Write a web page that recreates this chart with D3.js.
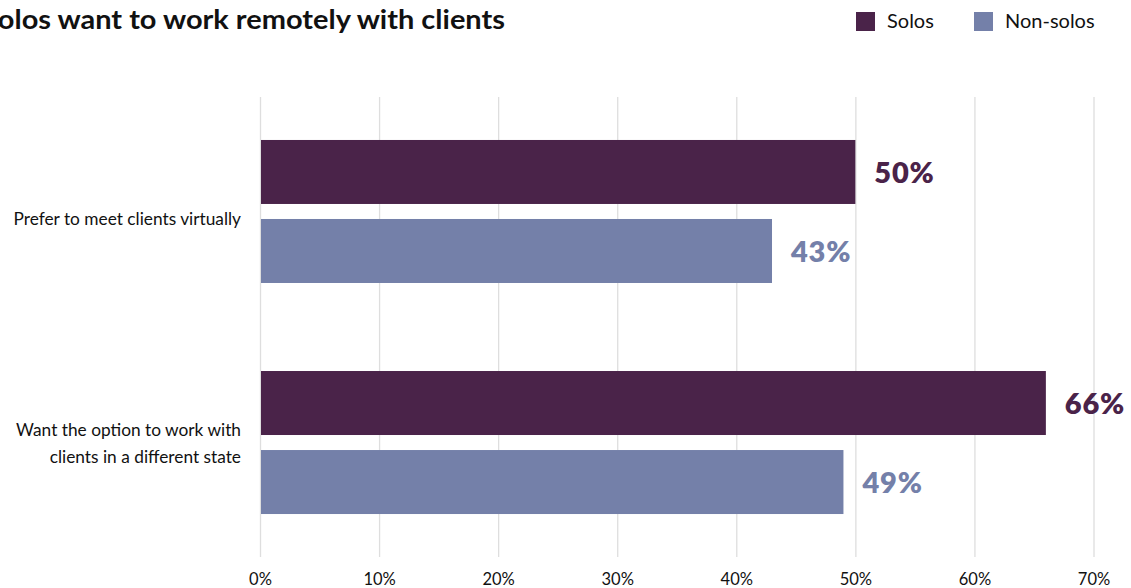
<!DOCTYPE html>
<html>
<head>
<meta charset="utf-8">
<script src="https://cdn.jsdelivr.net/npm/d3@7"></script>
<style>
  html, body { margin: 0; padding: 0; background: #fff; }
  svg { display: block; font-family: Lato, "Open Sans", sans-serif; }
</style>
</head>
<body>
<svg id="chart" width="1131" height="588"></svg>
<script>
// Survey answers, share of respondents (%)
const categories = [
  ["Prefer to meet clients virtually"],
  ["Want the option to work with", "clients in a different state"]
];
const seriesNames = ["Solos", "Non-solos"];
const solosValues = [50, 66];
const nonSolosValues = [43, 49];
const xTicks = [0, 10, 20, 30, 40, 50, 60, 70];
const titleText = "Solos want to work remotely with clients";

const colors = { "Solos": "#4a2349", "Non-solos": "#7480a9" };

const svg = d3.select("#chart");

const rows = categories.map((lines, i) => ({
  key: lines.join(" "),
  lines,
  values: [
    { series: "Solos", value: solosValues[i] },
    { series: "Non-solos", value: nonSolosValues[i] }
  ]
}));

const x = d3.scaleLinear().domain([0, 70]).range([260, 1093.5]);
const yTop = 97, yBottom = 557;
const y = d3.scaleBand()
  .domain(rows.map(d => d.key))
  .range([yTop, yBottom])
  .paddingInner(0.381)
  .paddingOuter(0.186);
const ySeries = d3.scaleBand()
  .domain(seriesNames)
  .range([0, y.bandwidth()])
  .paddingInner(0.19);

// Vertical gridlines + percentage tick labels
const axis = svg.append("g")
  .attr("transform", `translate(0,${yBottom})`)
  .call(d3.axisBottom(x)
    .tickValues(xTicks)
    .tickSize(-(yBottom - yTop))
    .tickFormat(d => d + "%"));
axis.select(".domain").remove();
axis.selectAll(".tick line")
  .attr("stroke", "#dedede")
  .attr("stroke-width", 1.3);
axis.selectAll(".tick text")
  .attr("y", 28)
  .attr("dy", 0)
  .attr("fill", "#111")
  .style("font-size", "16.5px")
  .style("font-family", "Lato, sans-serif");

// Bars
const groups = svg.append("g").selectAll("g")
  .data(rows)
  .join("g")
  .attr("transform", d => `translate(0,${y(d.key)})`);

groups.selectAll("rect")
  .data(d => d.values)
  .join("rect")
  .attr("x", x(0) + 1)
  .attr("y", d => ySeries(d.series))
  .attr("width", d => x(d.value) - x(0) - 1)
  .attr("height", ySeries.bandwidth())
  .attr("fill", d => colors[d.series]);

// Value labels
groups.selectAll("text.value")
  .data(d => d.values)
  .join("text")
  .attr("class", "value")
  .attr("x", d => x(d.value) + 19)
  .attr("y", d => ySeries(d.series) + ySeries.bandwidth() / 2 + 11)
  .attr("fill", d => colors[d.series])
  .style("font-size", "29px")
  .style("font-weight", 800)
  .style("letter-spacing", "0.8px")
  .text(d => d.value + "%");

// Category labels, right-aligned left of the bars
const lineHeight = 27;
groups.append("text")
  .attr("text-anchor", "end")
  .attr("fill", "#111")
  .style("font-size", "17.3px")
  .each(function (d) {
    const n = d.lines.length;
    const mid = y.bandwidth() / 2 + (n === 1 ? 7 : 0);
    const first = mid + 7 - (n - 1) * lineHeight / 2;
    d3.select(this).selectAll("tspan")
      .data(d.lines)
      .join("tspan")
      .attr("x", 241)
      .attr("y", (l, i) => first + i * lineHeight)
      .text(l => l);
  });

// Title (runs off the left edge)
const title = svg.append("text")
  .attr("x", 505)
  .attr("y", 29)
  .attr("text-anchor", "end")
  .attr("fill", "#111")
  .style("font-size", "27px")
  .style("font-weight", 700)
  .text(titleText);
const titleLen = title.node().getComputedTextLength();
if (Math.abs(titleLen - 523) > 2) {
  title.attr("textLength", 523).attr("lengthAdjust", "spacingAndGlyphs");
}

// Legend
const legend = svg.append("g");
const legendX = [856, 974];
seriesNames.forEach((name, i) => {
  legend.append("rect")
    .attr("x", legendX[i])
    .attr("y", 12)
    .attr("width", 19)
    .attr("height", 19)
    .attr("fill", colors[name]);
  legend.append("text")
    .attr("x", legendX[i] + 31)
    .attr("y", 28)
    .attr("fill", "#111")
    .style("font-size", "20px")
    .text(name);
});
</script>
</body>
</html>
